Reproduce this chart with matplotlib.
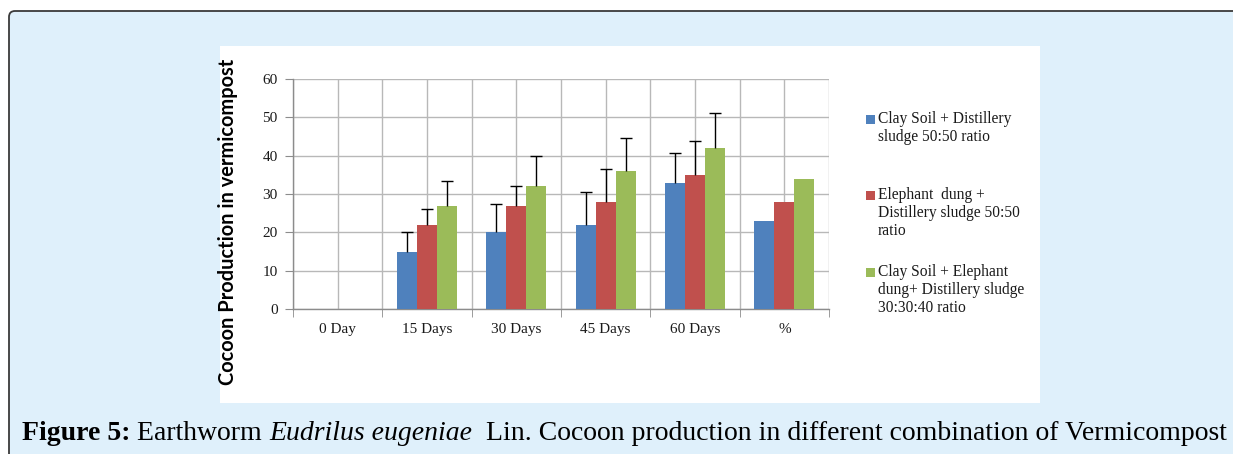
import numpy as np
import matplotlib
matplotlib.use('Agg')
import matplotlib.pyplot as plt
from matplotlib.patches import FancyBboxPatch, Rectangle
from matplotlib.transforms import IdentityTransform

# data
categories = ['0 Day', '15 Days', '30 Days', '45 Days', '60 Days', '%']
clay_distillery = [0, 15, 20, 22, 33, 23]
elephant_distillery = [0, 22, 27, 28, 35, 28]
clay_elephant_distillery = [0, 27, 32, 36, 42, 34]
# upper error bars (None = no bar drawn)
clay_err = [None, 5.0, 7.3, 8.4, 7.6, None]
elephant_err = [None, 4.1, 5.2, 8.6, 8.7, None]
mix_err = [None, 6.5, 8.0, 8.6, 9.1, None]

series_labels = ['Clay Soil + Distillery\nsludge 50:50 ratio',
                 'Elephant  dung +\nDistillery sludge 50:50\nratio',
                 'Clay Soil + Elephant\ndung+ Distillery sludge\n30:30:40 ratio']
colors = ['#4F81BD', '#C0504D', '#9BBB59']

W, H = 1233, 454
fig = plt.figure(figsize=(W / 100, H / 100), dpi=100)
fig.patch.set_facecolor('white')

# page background box and white chart panel (pixel coords)
bg = FancyBboxPatch((9, -30), 1300, H - 11 + 30, boxstyle='round,pad=0,rounding_size=6',
                    transform=IdentityTransform(), facecolor='#dff0fb',
                    edgecolor='#3a3a3a', linewidth=1.3, zorder=-2)
fig.patches.append(bg)
panel = Rectangle((220, H - 403), 820, 403 - 45.5, transform=IdentityTransform(),
                  facecolor='white', edgecolor='none', zorder=-1)
fig.patches.append(panel)

ax = fig.add_axes([293 / W, 1 - 309 / H, (829 - 293) / W, (309 - 79) / H])
ax.set_facecolor('none')

x = np.arange(len(categories))
bw = 0.225
series = [clay_distillery, elephant_distillery, clay_elephant_distillery]
errs = [clay_err, elephant_err, mix_err]
for i, (vals, err, c) in enumerate(zip(series, errs, colors)):
    pos = x + (i - 1) * bw
    ax.bar(pos, vals, width=bw, color=c, zorder=3)
    idx = [k for k, e in enumerate(err) if e is not None]
    eb = ax.errorbar(pos[idx], [vals[k] for k in idx],
                     yerr=[[0] * len(idx), [err[k] for k in idx]],
                     fmt='none', ecolor='black', elinewidth=1, capsize=4, capthick=1, zorder=4)
    eb[1][0].set_visible(False)  # only the top cap, like Excel's "plus" bars

ax.set_xlim(-0.5, 5.5)
ax.set_ylim(0, 60)
ax.set_yticks(range(0, 61, 10))
ax.set_xticks(x)
ax.set_xticklabels(categories)
ax.set_xticks(np.arange(-0.5, 6, 1), minor=True)
ax.tick_params(axis='x', which='major', length=0, pad=10)
ax.tick_params(axis='x', which='minor', length=6, color='#8c8c8c', direction='out')
ax.tick_params(axis='y', length=6, color='#8c8c8c', direction='out', pad=5)
for lab in ax.get_xticklabels() + ax.get_yticklabels():
    lab.set_fontfamily('Liberation Serif')
    lab.set_fontsize(11)
    lab.set_color('#1a1a1a')
ax.grid(True, which='both', color='#b8b8b8', linewidth=1, zorder=0)
ax.set_axisbelow(True)
for s in ['top', 'right']:
    ax.spines[s].set_visible(False)
for s in ['left', 'bottom']:
    ax.spines[s].set_color('#8c8c8c')
    ax.spines[s].set_linewidth(1)

fig.text(228 / W, 1 - 222 / H, 'Cocoon Production in vermicompost', rotation=90,
         ha='center', va='center', fontsize=14.4, fontweight='bold', family='Lato')

# legend, drawn by hand to keep Excel's layout
first_line_y = [119, 195, 272]
line_step = 17.8
for lab, c, y0 in zip(series_labels, colors, first_line_y):
    fig.patches.append(Rectangle((866, H - y0 - 4.5), 9, 9, transform=IdentityTransform(),
                                 facecolor=c, edgecolor='none', zorder=2))
    for j, line in enumerate(lab.split('\n')):
        fig.text(878 / W, 1 - (y0 + j * line_step) / H, line, ha='left', va='center',
                 fontsize=11.2, family='Liberation Serif', color='#1a1a1a')

# caption, pieces laid out one after another, sized to span 22..1228 px
renderer = fig.canvas.get_renderer()
pieces = [('Figure 5:', 'bold', 'normal'), (' Earthworm ', 'normal', 'normal'),
          ('Eudrilus eugeniae', 'normal', 'italic'),
          ('  Lin. Cocoon production in different combination of Vermicompost', 'normal', 'normal')]


def lay_caption(size, draw=True):
    xpx = 22
    made = []
    for txt, wt, st in pieces:
        t = fig.text(xpx / W, 1 - 433 / H, txt, ha='left', va='center', fontsize=size,
                     family='Liberation Serif', fontweight=wt, fontstyle=st, color='black')
        xpx = t.get_window_extent(renderer=renderer).x1
        made.append(t)
    if not draw:
        for t in made:
            t.remove()
    return xpx


end = lay_caption(18, draw=False)
lay_caption(18 * (1228 - 22) / (end - 22))

fig.savefig('out.png', dpi=100)
